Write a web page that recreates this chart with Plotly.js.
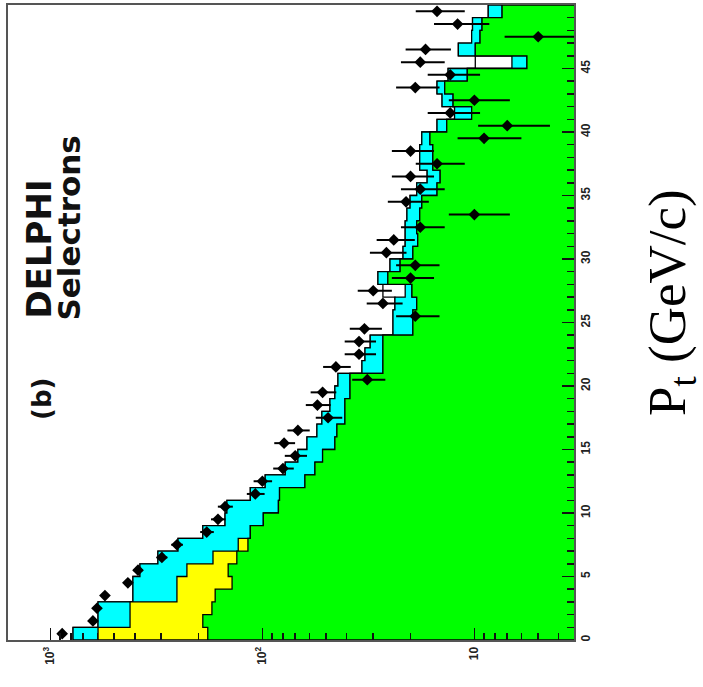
<!DOCTYPE html>
<html>
<head>
<meta charset="utf-8">
<script src="https://cdn.plot.ly/plotly-3.0.1.min.js"></script>
<style>
  html, body { margin: 0; padding: 0; background: #fff; }
  #chart { width: 703px; height: 687px; }
</style>
</head>
<body>
<div id="chart"></div>
<script>
// Pt bin edges (GeV/c), 1 GeV/c bins
const ptEdges = [0,1,2,3,4,5,6,7,8,9,10,11,12,13,14,15,16,17,18,19,20,21,22,23,24,25,
  26,27,28,29,30,31,32,33,34,35,36,37,38,39,40,41,42,43,44,45,46,47,48,49,50];

// Observed events per bin and their errors
const dataCounts = [880,630,603,553,431,386,298,253,183,162,
  150,108,100,80,70,79,68,49,55,52,
  32,45,35,35,33,19,27,30,20,19,
  26,24,18,10,21,18,20,15,20,9,
  7,13,10,19,13,18,17,5,12,15];
const dataErrors = [29.7,25.1,24.6,23.5,20.8,19.6,17.3,15.9,13.5,12.7,
  12.2,10.4,10.0,8.9,8.4,8.9,8.2,7.0,7.4,7.2,
  5.7,6.7,5.9,5.9,5.7,4.4,5.2,5.5,4.5,4.4,
  5.1,4.9,4.2,3.2,4.6,4.2,4.5,3.9,4.5,3.0,
  2.6,3.6,3.2,4.4,3.6,4.2,4.1,2.2,3.5,3.9];

// Simulated contributions (stacked bottom to top)
const simGreen = [181,191,173,167,139,145,132,117,114,99,
  84,83,63,56.5,52,45.5,44.5,40.8,40.8,38.6,
  38.6,27,27,27,19.5,19.5,18.7,19.7,25.6,22.4,
  19.5,18.5,18.7,18.1,17.7,15.0,14.5,15.7,15.7,16.2,
  13.5,10.3,12.6,13.8,10.8,5.65,9.9,9.4,9.2,7.4];
const simYellow = [415,230,248,86,114,82,39,13,0,0,
  0,0,0,0,0,0,0,0,0,0,
  0,0,0,0,0,0,0,0,0,0,
  0,0,0,0,0,0,0,0,0,0,
  0,0,0,0,0,0,0,0,0,0];
const simCyan = [186,175,175,155,155,151,140,120,77,51,
  63,31,34,21.5,16,16.1,10.8,11.6,7.2,6.9,
  5.4,6.9,5.8,4,4.7,4.7,5,1.5,2.9,2.6,
  2.2,2.7,2.5,2.7,2.4,3.7,2.2,2.4,2.4,1.5,
  1.5,2.1,1.6,1.2,2.5,1.0,2.0,0.9,1.0,1.2];
const simWhite = [0,0,0,0,0,0,0,0,0,0,
  0,0,0,0,0,0,0,0,0,0,
  0,0,0,0,0,0,0,5.8,0,0,
  0,0,0,0,0,0,0,0,0,0,
  0,0,0,0,0,3.25,0,0,0,0];

// Axis tick labels
const countTickVals = [10, 100, 1000];
const countTickText = ['10', '10<sup>2</sup>', '10<sup>3</sup>'];
const countMinorVals = [4,5,6,7,8,9,20,30,40,50,60,70,80,90,200,300,400,500,600,700,800,900];

// ---- stacking and step outlines ----
function addArrays(a, b) { return a.map((v, i) => v + b[i]); }
const topGreen = simGreen.slice();
const topYellow = addArrays(topGreen, simYellow);
const topCyan = addArrays(topYellow, simCyan);
const topWhite = addArrays(topCyan, simWhite);

const BASE = 1; // below the visible count range, so fills reach the plot edge
function stepPolygon(tops) {
  const x = [BASE], y = [ptEdges[0]];
  for (let k = 0; k < tops.length; k++) {
    x.push(tops[k], tops[k]);
    y.push(ptEdges[k], ptEdges[k + 1]);
  }
  x.push(BASE, BASE);
  y.push(ptEdges[ptEdges.length - 1], ptEdges[0]);
  return { x, y };
}

function histTrace(tops, color) {
  const p = stepPolygon(tops);
  return {
    type: 'scatter', mode: 'lines', x: p.x, y: p.y,
    fill: 'toself', fillcolor: color,
    line: { color: '#000', width: 1.3 },
    hoverinfo: 'skip'
  };
}

const binCentres = dataCounts.map((_, k) => (ptEdges[k] + ptEdges[k + 1]) / 2);

const traces = [
  histTrace(topWhite, '#ffffff'),
  histTrace(topCyan, '#00ffff'),
  histTrace(topYellow, '#ffff00'),
  histTrace(topGreen, '#00ff00'),
  {
    type: 'scatter', mode: 'markers',
    x: dataCounts, y: binCentres,
    marker: { symbol: 'diamond', size: 9, color: '#000' },
    error_x: { type: 'data', array: dataErrors, visible: true, thickness: 2, width: 0, color: '#000' },
    hoverinfo: 'x+y'
  }
];

const tickFont = { family: 'Liberation Sans, Arial, sans-serif', size: 12, color: '#222', weight: 'bold' };
const labelFont = { family: 'DejaVu Sans, sans-serif', size: 31, color: '#111', weight: 'bold' };

// plot area: x 8..574 px, y 5..640 px
const L = 8, R = 574, T = 5, B = 640;
const px = X => (X - L) / (R - L);
const py = Y => (B - Y) / (B - T);

const layout = {
  width: 703, height: 687,
  margin: { l: L, r: 703 - R, t: T, b: 687 - B },
  paper_bgcolor: '#fff', plot_bgcolor: '#fff',
  showlegend: false,
  xaxis: {
    type: 'log', range: [3.2, 0.53],
    tickmode: 'array', tickvals: countTickVals, ticktext: countTickText,
    tickangle: -90, ticks: 'inside', ticklen: 12, tickwidth: 1.5, tickcolor: '#111',
    tickfont: tickFont,
    showline: true, mirror: true, linecolor: '#555', linewidth: 2,
    showgrid: false, zeroline: false, layer: 'above traces',
    minor: { tickmode: 'array', tickvals: countMinorVals, ticks: 'inside', ticklen: 7, tickwidth: 1.5, tickcolor: '#111', showgrid: false }
  },
  yaxis: {
    range: [0, 50], side: 'right', tick0: 0, dtick: 5,
    tickangle: -90, ticks: 'inside', ticklen: 12, tickwidth: 1.5, tickcolor: '#111',
    tickfont: tickFont,
    showline: true, mirror: true, linecolor: '#555', linewidth: 2,
    showgrid: false, zeroline: false, layer: 'above traces',
    minor: { dtick: 1, ticks: 'inside', ticklen: 7, tickwidth: 1.5, tickcolor: '#111', showgrid: false }
  },
  annotations: [
    { xref: 'paper', yref: 'paper', x: px(671), y: py(303), xanchor: 'center', yanchor: 'middle',
      text: 'P<sub>t</sub> (GeV/c)', textangle: -90, showarrow: false,
      font: { family: 'Liberation Serif, Times New Roman, serif', size: 53, color: '#000' } },
    { xref: 'paper', yref: 'paper', x: px(42), y: py(422), xanchor: 'center', yanchor: 'bottom',
      text: '(b)', textangle: -90, showarrow: false, font: Object.assign({}, labelFont, { size: 26 }) },
    { xref: 'paper', yref: 'paper', x: px(38), y: py(321), xanchor: 'center', yanchor: 'bottom',
      text: 'DELPHI', textangle: -90, showarrow: false, font: Object.assign({}, labelFont, { size: 34 }) },
    { xref: 'paper', yref: 'paper', x: px(68), y: py(323), xanchor: 'center', yanchor: 'bottom',
      text: 'Selectrons', textangle: -90, showarrow: false, font: labelFont }
  ]
};

Plotly.newPlot('chart', traces, layout, { staticPlot: true, displayModeBar: false });
</script>
</body>
</html>
